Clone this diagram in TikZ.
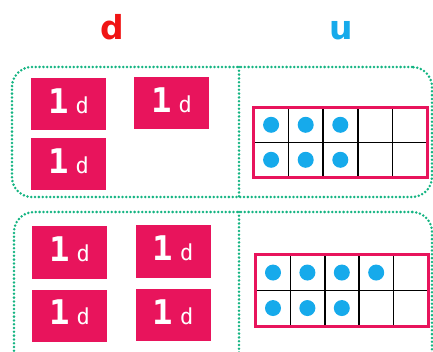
\documentclass[tikz,border=0pt]{standalone}
\usepackage{fontspec}
\usetikzlibrary{calc,positioning}
\newfontfamily\tilefont{DejaVu Sans Mono}
\newfontfamily\headfont{DejaVu Sans}
\definecolor{tilepink}{RGB}{232,20,92}
\definecolor{dotblue}{RGB}{22,170,235}
\definecolor{dotgreen}{RGB}{20,180,130}
\definecolor{headred}{RGB}{240,20,20}
\newcommand{\tenlabel}{{\bfseries 1}\hspace{7pt}{\fontsize{22}{22}\selectfont d}}

\begin{document}
\begin{tikzpicture}[
  x=1pt, y=-1pt,
  tile/.style={fill=tilepink, minimum width=75pt, minimum height=52pt, inner sep=0pt,
               text depth=6pt, text=white, font=\tilefont\fontsize{34}{34}\selectfont},
  group/.style={draw=dotgreen, line width=2.8pt, dash pattern=on 0pt off 3.8pt,
                line cap=round, rounded corners=20pt},
  divider/.style={draw=dotgreen, line width=2.8pt, dash pattern=on 0pt off 3.8pt, line cap=round},
  tenframe/.style={minimum width=173pt, minimum height=70pt, inner sep=0pt},
  frameedge/.style={draw=tilepink, line width=3pt},
  cellline/.style={black, line width=1.5pt},
  counter/.style={circle, fill=dotblue, minimum size=16pt, inner sep=0pt},
  head/.style={font=\headfont\bfseries\fontsize{33}{33}\selectfont, anchor=base}]
\clip (0,0) rectangle (433,352);

% column heads
\node[head, text=headred] (tens) at (112,40) {d};
\node[head, text=dotblue] (ones) at (341,40) {u};

% group outlines
\node[group, minimum width=420pt, minimum height=130pt] (grpA) at (222,132) {};
\node[group, minimum width=418pt, minimum height=160pt] (grpB) at (223,292) {};
\coordinate (divA) at (239,67);
\coordinate (divB) at (239,212);
\draw[divider] (divA) -- (divA |- grpA.south);
\draw[divider] (divB) -- (divB |- grpB.south);

% tens
\node[tile] (tA1) at (68.5,104.5) {\tenlabel};
\node[tile] (tA2) at (171.5,103.5) {\tenlabel};
\node[tile] (tA3) at (68.5,164) {\tenlabel};
\node[tile] (tB1) at (69.5,252.5) {\tenlabel};
\node[tile] (tB2) at (173,251.5) {\tenlabel};
\node[tile] (tB3) at (69.5,315.5) {\tenlabel};
\node[tile] (tB4) at (173,315) {\tenlabel};

% ones: ten frames
\node[tenframe] (frA) at (340.5,142.5) {};
\node[tenframe, minimum width=172pt, minimum height=71pt] (frB) at (342,290.5) {};
\foreach \fr in {frA,frB} {
  \foreach \i in {1,...,4}
    \draw[cellline] ($(\fr.north west)!\i/5!(\fr.north east)$) -- ($(\fr.south west)!\i/5!(\fr.south east)$);
  \draw[cellline] (\fr.west) -- (\fr.east);
}
\foreach \c/\r in {0/0,1/0,2/0,0/1,1/1,2/1}
  \node[counter] (cA\c\r) at ($(frA.north west)+({(\c+0.5)*34.6},{(\r+0.5)*35})$) {};
\foreach \c/\r in {0/0,1/0,2/0,3/0,0/1,1/1,2/1}
  \node[counter] (cB\c\r) at ($(frB.north west)+({(\c+0.5)*34.4},{(\r+0.5)*35.5})$) {};
\draw[frameedge] (frA.north west) rectangle (frA.south east);
\draw[frameedge] (frB.north west) rectangle (frB.south east);
\end{tikzpicture}
\end{document}
